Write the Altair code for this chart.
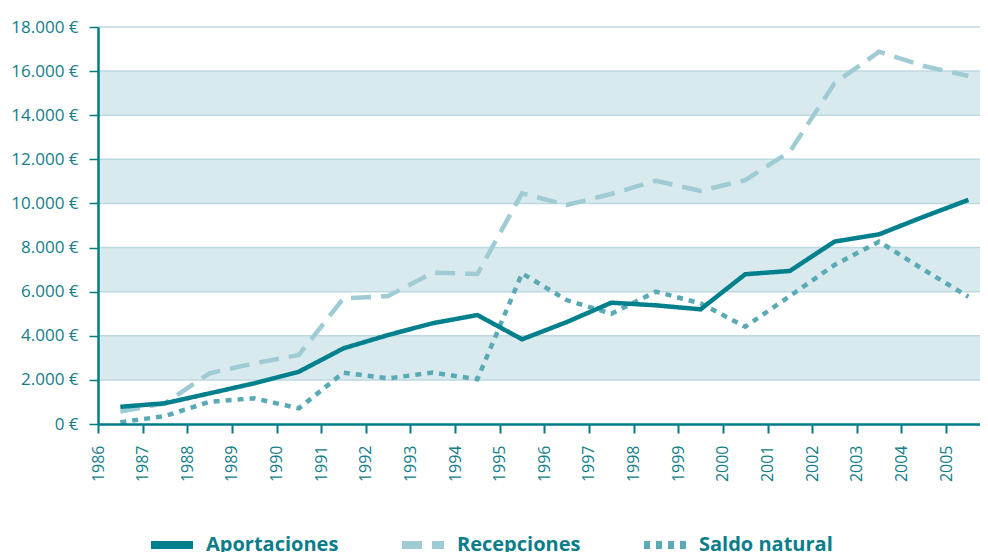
import altair as alt
import pandas as pd

# mid-year positions of the data points
years = [1986.5, 1987.5, 1988.5, 1989.5, 1990.5, 1991.5, 1992.5, 1993.5, 1994.5, 1995.5,
         1996.5, 1997.5, 1998.5, 1999.5, 2000.5, 2001.5, 2002.5, 2003.5, 2004.5, 2005.5]

aportaciones = [780, 940, 1390, 1845, 2370, 3430, 4035, 4570, 4940, 3840,
                4620, 5500, 5380, 5200, 6790, 6940, 8270, 8600, 9400, 10160]
recepciones = [560, 940, 2300, 2750, 3130, 5700, 5800, 6860, 6800, 10460,
               9930, 10430, 11030, 10570, 11060, 12350, 15450, 16880, 16230, 15780]
saldo_natural = [80, 360, 1010, 1165, 710, 2330, 2070, 2330, 2030, 6830,
                 5620, 5000, 6000, 5470, 4410, 5800, 7210, 8270, 6990, 5770]

series_names = ["Aportaciones", "Recepciones", "Saldo natural"]
series_colors = ["#007f8c", "#9ecbd4", "#5aaab6"]
series_dash = [[1, 0], [20, 10], [6, 6]]

x_ticks = [1986, 1987, 1988, 1989, 1990, 1991, 1992, 1993, 1994, 1995,
           1996, 1997, 1998, 1999, 2000, 2001, 2002, 2003, 2004, 2005]
y_ticks = [0, 2000, 4000, 6000, 8000, 10000, 12000, 14000, 16000, 18000]

band_low = [2000, 6000, 10000, 14000]
band_high = [4000, 8000, 12000, 16000]

teal = "#007b88"
label_teal = "#137c89"

rows = []
# draw order: Recepciones, Saldo natural, Aportaciones on top
for name, vals in [("Recepciones", recepciones), ("Saldo natural", saldo_natural),
                   ("Aportaciones", aportaciones)]:
    for i, (yr, v) in enumerate(zip(years, vals)):
        rows.append({"year": yr, "value": v, "serie": name, "order": i})
df = pd.DataFrame(rows)

bands_df = pd.DataFrame({"lo": band_low, "hi": band_high})
grid_df = pd.DataFrame({"g": y_ticks[1:]})

x_scale = alt.Scale(domain=[1986, 2005.76], nice=False, zero=False)
y_scale = alt.Scale(domain=[0, 18000], nice=False)

bands = alt.Chart(bands_df).mark_rect(color="#d9eaef").encode(
    y=alt.Y("lo:Q", scale=y_scale, title=None),
    y2="hi:Q",
)

grid = alt.Chart(grid_df).mark_rule(color="#bcd9e1", strokeWidth=1.5).encode(
    y=alt.Y("g:Q", scale=y_scale),
)

lines = alt.Chart(df).mark_line(strokeWidth=4.5).encode(
    x=alt.X("year:Q", scale=x_scale,
            axis=alt.Axis(values=x_ticks, labelAngle=-90, format="d", title=None,
                          labelFont="Open Sans", labelFontSize=16, labelColor=label_teal,
                          labelPadding=12, tickSize=9, tickWidth=2, tickColor=teal,
                          domainColor=teal, domainWidth=2.5, grid=False,
                          labelFlush=False, labelOverlap=False, zindex=1)),
    y=alt.Y("value:Q", scale=y_scale,
            axis=alt.Axis(values=y_ticks, title=None, grid=False,
                          labelExpr="datum.value == 0 ? '0 €' : replace(format(datum.value, ',d'), ',', '.') + ' €'",
                          labelFont="Open Sans", labelFontSize=17, labelColor=label_teal,
                          labelPadding=11, tickSize=9, tickWidth=1.5, tickColor=teal,
                          domainColor=teal, domainWidth=2.5, zindex=1)),
    color=alt.Color("serie:N", scale=alt.Scale(domain=series_names, range=series_colors),
                    legend=alt.Legend(orient="none", legendX=49, legendY=493,
                                      direction="horizontal", title=None,
                                      symbolType="stroke", symbolSize=1764,
                                      symbolStrokeWidth=8, labelFont="Open Sans",
                                      labelFontSize=20, labelFontWeight="bold",
                                      labelColor="#0a7d8a", columnPadding=47,
                                      labelOffset=9)),
    strokeDash=alt.StrokeDash("serie:N", scale=alt.Scale(domain=series_names, range=series_dash)),
    detail="serie:N",
    order="order:Q",
)

chart = alt.layer(bands, grid, lines).properties(
    width=882, height=397,
    padding={"left": 90, "top": 19, "right": 0, "bottom": 140},
    autosize=alt.AutoSizeParams(type="none"),
    background="white",
).configure_view(stroke=None)

chart.save("out.html", embed_options={"renderer": "svg", "actions": False})
